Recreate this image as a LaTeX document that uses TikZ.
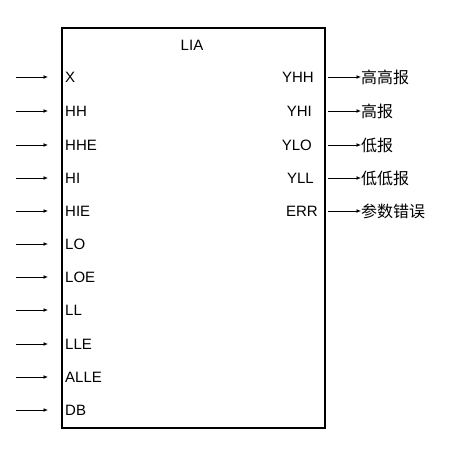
\documentclass[tikz,border=0pt]{standalone}
\usepackage{fontspec}
\setmainfont{Liberation Sans}
\newfontfamily\cjk{Noto Sans CJK SC}
\usetikzlibrary{arrows.meta}

\begin{document}
\begin{tikzpicture}[
  x=1pt, y=-1pt,
  font=\fontsize{15}{17}\selectfont,
  blk/.style={draw=black, line width=1.8pt},
  pin/.style={inner sep=0pt, anchor=west},
  pout/.style={inner sep=0pt, anchor=east},
  msg/.style={inner sep=0pt, anchor=west, font=\fontsize{16}{18}\cjk},
  arr/.style={draw=black, line width=1pt, -{Latex[length=4.5pt,width=4pt]}}
]
\useasboundingbox (0,0) rectangle (457,458);

% function block
\draw[blk] (62,28) rectangle (325,428);
\node[inner sep=0pt] (lia) at (192,45) {LIA};

% inputs
\node[pin] (x)    at (65,77)  {X};
\node[pin] (hh)   at (65,111) {HH};
\node[pin] (hhe)  at (65,145) {HHE};
\node[pin] (hi)   at (65,178) {HI};
\node[pin] (hie)  at (65,211) {HIE};
\node[pin] (lo)   at (65,244) {LO};
\node[pin] (loe)  at (65,277) {LOE};
\node[pin] (ll)   at (65,310) {LL};
\node[pin] (lle)  at (65,344) {LLE};
\node[pin] (alle) at (65,377) {ALLE};
\node[pin] (db)   at (65,410) {DB};

\coordinate (xa) at (16,77);    \coordinate (xb) at (48,77);
\coordinate (hha) at (16,111);  \coordinate (hhb) at (48,111);
\coordinate (hhea) at (16,145); \coordinate (hheb) at (48,145);
\coordinate (hia) at (16,178);  \coordinate (hib) at (48,178);
\coordinate (hiea) at (16,211); \coordinate (hieb) at (48,211);
\coordinate (loa) at (16,244);  \coordinate (lob) at (48,244);
\coordinate (loea) at (16,277); \coordinate (loeb) at (48,277);
\coordinate (lla) at (16,310);  \coordinate (llb) at (48,310);
\coordinate (llea) at (16,344); \coordinate (lleb) at (48,344);
\coordinate (allea) at (16,377); \coordinate (alleb) at (48,377);
\coordinate (dba) at (16,410);  \coordinate (dbb) at (48,410);

\draw[arr] (xa) -- (xb);
\draw[arr] (hha) -- (hhb);
\draw[arr] (hhea) -- (hheb);
\draw[arr] (hia) -- (hib);
\draw[arr] (hiea) -- (hieb);
\draw[arr] (loa) -- (lob);
\draw[arr] (loea) -- (loeb);
\draw[arr] (lla) -- (llb);
\draw[arr] (llea) -- (lleb);
\draw[arr] (allea) -- (alleb);
\draw[arr] (dba) -- (dbb);

% outputs
\node[pout] (yhh) at (314,77)  {YHH};
\node[pout] (yhi) at (312,111) {YHI};
\node[pout] (ylo) at (312,145) {YLO};
\node[pout] (yll) at (314,178) {YLL};
\node[pout] (err) at (318,211) {ERR};

\node[msg] (hhalm) at (361,77)  {高高报};
\node[msg] (hialm) at (361,111) {高报};
\node[msg] (loalm) at (361,145) {低报};
\node[msg] (llalm) at (361,178) {低低报};
\node[msg] (erralm) at (361,211) {参数错误};

\coordinate (yhho) at (328,77);
\coordinate (yhio) at (328,111);
\coordinate (ylo-o) at (328,145);
\coordinate (yllo) at (328,178);
\coordinate (erro) at (328,211);

\draw[arr] (yhho) -- (hhalm);
\draw[arr] (yhio) -- (hialm);
\draw[arr] (ylo-o) -- (loalm);
\draw[arr] (yllo) -- (llalm);
\draw[arr] (erro) -- (erralm);

\end{tikzpicture}
\end{document}
